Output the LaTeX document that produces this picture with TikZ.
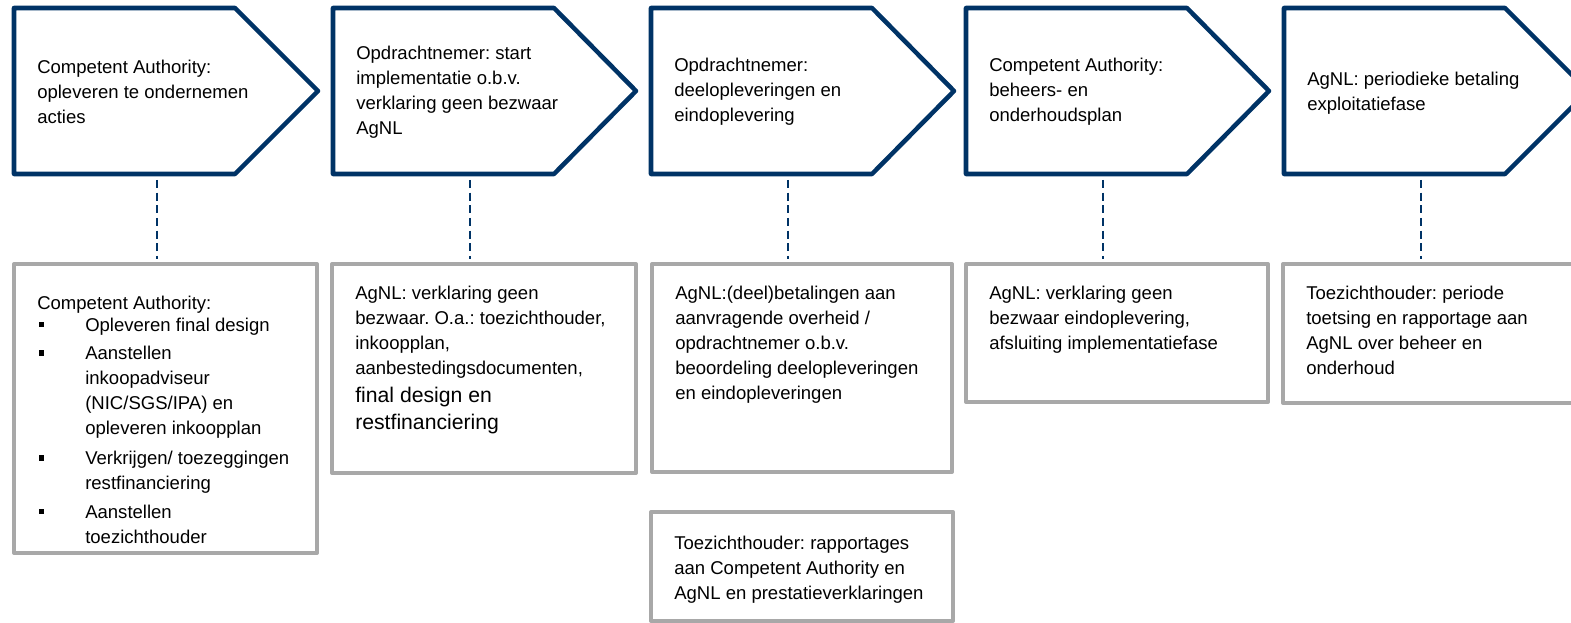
\documentclass[tikz,border=0pt]{standalone}
\usepackage{fontspec}
\setmainfont{Liberation Sans}
\usetikzlibrary{fit}
\definecolor{navy}{RGB}{0,51,102}
\definecolor{gry}{RGB}{168,168,168}
\newcommand{\bitem}{\makebox[36pt][l]{\hspace*{1.1pt}\rule[3.3pt]{3.8pt}{3.8pt}}}
\newcommand{\bind}{\hspace*{36pt}}
\frenchspacing
\begin{document}
\begin{tikzpicture}[x=0.75pt,y=-0.75pt,
  phase/.style={draw=navy,line width=3.4pt,line join=round,fill=white},
  gbox/.style={draw=gry,line width=3pt,inner sep=0pt,outer sep=0pt,line join=round},
  txt/.style={font=\fontsize{13.9pt}{18.75pt}\selectfont\frenchspacing,align=left,inner sep=0pt,text=black},
  link/.style={draw=navy,line width=1.6pt,dash pattern=on 6pt off 3.5pt}]
\useasboundingbox (0,0) rectangle (1571,623);
\clip (0,0) rectangle (1571,623);

% phase arrows
\draw[phase] (14,8) -- (235,8) -- (318,91) -- (235,174) -- (14,174) -- cycle;
\draw[phase] (333,8) -- (554,8) -- (636,91) -- (554,174) -- (333,174) -- cycle;
\draw[phase] (651,8) -- (872,8) -- (954,91) -- (872,174) -- (651,174) -- cycle;
\draw[phase] (966,8) -- (1187,8) -- (1269,91) -- (1187,174) -- (966,174) -- cycle;
\draw[phase] (1284,8) -- (1505,8) -- (1588,91) -- (1505,174) -- (1284,174) -- cycle;

\node[txt,anchor=west] (ph1) at (37,92) {Competent Authority:\\opleveren te ondernemen\\acties};
\node[txt,anchor=west] (ph2) at (356,92) {Opdrachtnemer: start\\implementatie o.b.v.\\verklaring geen bezwaar\\AgNL};
\node[txt,anchor=west] (ph3) at (674,92) {Opdrachtnemer:\\deelopleveringen en\\eindoplevering};
\node[txt,anchor=west] (ph4) at (989,92) {Competent Authority:\\beheers- en\\onderhoudsplan};
\node[txt,anchor=west] (ph5) at (1307,93) {AgNL: periodieke betaling\\exploitatiefase};

% lower boxes
\node[gbox,fit={(14,264)(317,553)}] (b1) {};
\node[gbox,fit={(332,264)(636,473)}] (b2) {};
\node[gbox,fit={(652,264)(952,472)}] (b3) {};
\node[gbox,fit={(966,264)(1268,402)}] (b4) {};
\node[gbox,fit={(1283,264)(1610,403)}] (b5) {};
\node[gbox,fit={(651,512)(953,621)}] (b6) {};

\node[txt,anchor=north west] (t1) at (37,295.5) {Competent Authority:\\[-2.25pt]
\bitem Opleveren final design\\[2.8pt]
\bitem Aanstellen\\ \bind inkoopadviseur\\ \bind (NIC/SGS/IPA) en\\ \bind opleveren inkoopplan\\[3.75pt]
\bitem Verkrijgen/ toezeggingen\\ \bind restfinanciering\\[2.5pt]
\bitem Aanstellen\\ \bind toezichthouder};
\node[txt,anchor=north west] (t2) at (355,285.5) {AgNL: verklaring geen\\bezwaar. O.a.: toezichthouder,\\inkoopplan,\\aanbestedingsdocumenten,\\[2.5pt]
{\fontsize{15.9pt}{21pt}\selectfont final design en}\\[1.25pt]
{\fontsize{15.9pt}{21pt}\selectfont restfinanciering}};
\node[txt,anchor=north west] (t3) at (675,285.5) {AgNL:(deel)betalingen aan\\aanvragende overheid /\\opdrachtnemer o.b.v.\\beoordeling deelopleveringen\\en eindopleveringen};
\node[txt,anchor=north west] (t4) at (989,285.5) {AgNL: verklaring geen\\bezwaar eindoplevering,\\afsluiting implementatiefase};
\node[txt,anchor=north west] (t5) at (1306,285.5) {Toezichthouder: periode\\toetsing en rapportage aan\\AgNL over beheer en\\onderhoud};
\node[txt,anchor=north west] (t6) at (674,536) {Toezichthouder: rapportages\\aan Competent Authority en\\AgNL en prestatieverklaringen};

% dashed connectors
\coordinate (d1) at (157,180);
\coordinate (d2) at (470,180);
\coordinate (d3) at (788,180);
\coordinate (d4) at (1103,180);
\coordinate (d5) at (1421,180);
\draw[link,shorten >=3.5pt] (d1) -- (d1 |- b1.north);
\draw[link,shorten >=3.5pt] (d2) -- (d2 |- b2.north);
\draw[link,shorten >=3.5pt] (d3) -- (d3 |- b3.north);
\draw[link,shorten >=3.5pt] (d4) -- (d4 |- b4.north);
\draw[link,shorten >=3.5pt] (d5) -- (d5 |- b5.north);
\end{tikzpicture}
\end{document}
